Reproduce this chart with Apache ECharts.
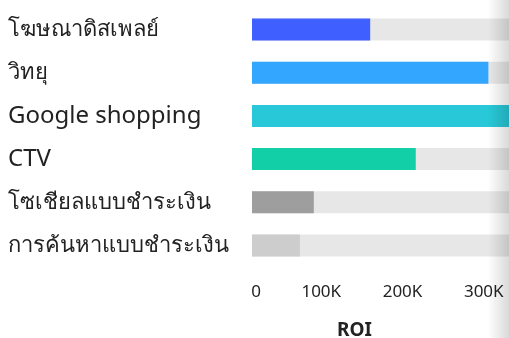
<!DOCTYPE html>
<html>
<head>
<meta charset="utf-8">
<script src="https://cdn.jsdelivr.net/npm/echarts@6/dist/echarts.min.js"></script>
<style>
html,body{margin:0;padding:0;background:#fff;}
#main{width:509px;height:338px;}
</style>
</head>
<body>
<div id="main"></div>
<script>
var categories = ['โฆษณาดิสเพลย์', 'วิทยุ', 'Google shopping', 'CTV', 'โซเชียลแบบชำระเงิน', 'การค้นหาแบบชำระเงิน'];
var roiValues = [153000, 306000, 350000, 212000, 80000, 62000];
var barColors = ['#3f5fff', '#33a6ff', '#28c8d8', '#12cfa7', '#9e9e9e', '#cdcdcd'];
var tickLabels = {0: '0', 100000: '100K', 200000: '200K', 300000: '300K', 400000: '400K'};
var tickStyleKeys = {0: 't0', 100000: 't1', 200000: 't2', 300000: 't3', 400000: 't3'};

var chart = echarts.init(document.getElementById('main'));
var tickBase = {fontSize: 17, color: '#222', fontFamily: 'Noto Sans'};
chart.setOption({
  animation: false,
  grid: {left: 252, top: 8, bottom: 71, width: 309, containLabel: false, outerBoundsMode: 'none'},
  xAxis: {
    type: 'value', min: 0, max: 400000, interval: 100000,
    axisLine: {show: false}, axisTick: {show: false}, splitLine: {show: false},
    axisLabel: {
      margin: 17, color: '#222', fontSize: 17, fontFamily: 'Noto Sans',
      formatter: function (v) { return '{' + tickStyleKeys[v] + '|' + tickLabels[v] + '}'; },
      rich: {
        t0: Object.assign({padding: [0, 0, 0, 8]}, tickBase),
        t1: Object.assign({padding: [0, 16, 0, 0]}, tickBase),
        t2: Object.assign({padding: [0, 8, 0, 0]}, tickBase),
        t3: Object.assign({padding: [0, 0, 0, 0]}, tickBase)
      }
    }
  },
  yAxis: {
    type: 'category', data: categories, inverse: true,
    axisLine: {show: false}, axisTick: {show: false},
    axisLabel: {
      align: 'left', margin: 244, color: '#222', fontSize: 22, fontFamily: 'Noto Sans',
      formatter: function (v) { return /^[A-Za-z ]+$/.test(v) ? '{lat|' + v + '}' : v; },
      rich: {lat: {fontSize: 24, color: '#222', fontFamily: 'Noto Sans'}}
    }
  },
  series: [{
    type: 'bar', barWidth: 22,
    showBackground: true,
    backgroundStyle: {color: '#e7e7e7'},
    data: roiValues.map(function (v, i) { return {value: v, itemStyle: {color: barColors[i]}}; })
  }],
  graphic: [
    {type: 'text', left: 337, top: 321, style: {text: 'ROI', fontSize: 19, fontWeight: 'bold', fill: '#222', fontFamily: 'Noto Sans'}},
    {type: 'rect', shape: {x: 488, y: 0, width: 21, height: 338}, z: 100,
     style: {fill: new echarts.graphic.LinearGradient(0, 0, 1, 0, [{offset: 0, color: 'rgba(0,0,0,0)'}, {offset: 1, color: 'rgba(0,0,0,0.15)'}])}}
  ]
});
</script>
</body>
</html>
